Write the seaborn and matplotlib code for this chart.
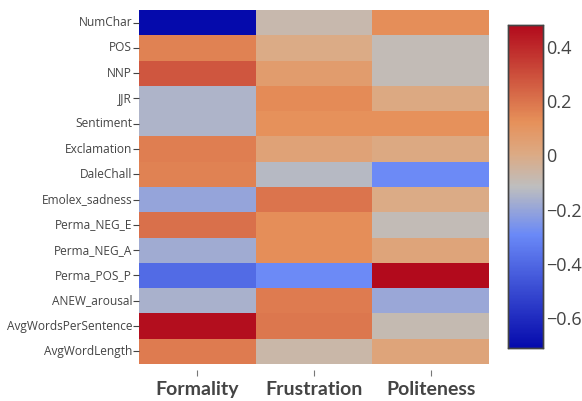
import numpy as np
import pandas as pd
import matplotlib
matplotlib.use("Agg")
import matplotlib.pyplot as plt
import seaborn as sns
from matplotlib.colors import LinearSegmentedColormap

# feature names (rows) and targets (columns)
features = ['NumChar', 'POS', 'NNP', 'JJR', 'Sentiment', 'Exclamation', 'DaleChall',
            'Emolex_sadness', 'Perma_NEG_E', 'Perma_NEG_A', 'Perma_POS_P', 'ANEW_arousal',
            'AvgWordsPerSentence', 'AvgWordLength']
targets = ['Formality', 'Frustration', 'Politeness']

# correlation values
formality = [-0.71, 0.16, 0.28, -0.15, -0.15, 0.17, 0.16,
             -0.20, 0.21, -0.18, -0.39, -0.16, 0.47, 0.18]
frustration = [-0.08, 0.00, 0.07, 0.14, 0.12, 0.04, -0.13,
               0.20, 0.13, 0.13, -0.29, 0.18, 0.19, -0.07]
politeness = [0.13, -0.10, -0.10, 0.01, 0.12, 0.01, -0.29,
              0.00, -0.10, 0.03, 0.48, -0.19, -0.09, 0.03]

df = pd.DataFrame({'Formality': formality, 'Frustration': frustration,
                   'Politeness': politeness}, index=features)

# plotly-style RdBu colorscale (blue low, red high)
stops = [(0.0, (5, 10, 172)), (0.35, (106, 137, 247)), (0.5, (190, 190, 190)),
         (0.6, (220, 170, 132)), (0.7, (230, 145, 90)), (1.0, (178, 10, 28))]
cmap = LinearSegmentedColormap.from_list(
    'plotly_rdbu', [(p, tuple(c / 255 for c in rgb)) for p, rgb in stops])

plt.rcParams['font.family'] = ['Open Sans', 'DejaVu Sans']
text_color = '#444444'

fig = plt.figure(figsize=(5.82, 4.01), dpi=100)
ax = fig.add_axes([0.2388, 0.0923, 0.6014, 0.8828])
cax = fig.add_axes([0.873, 0.1322, 0.060, 0.8055])

sns.heatmap(df, ax=ax, cbar_ax=cax, cmap=cmap,
            vmin=df.values.min(), vmax=df.values.max())

# offset x ticks below the cells (do this before styling labels: it resets ticks)
ax.spines['bottom'].set_position(('outward', 4))
ax.tick_params(axis='y', length=4, width=0.8, color=text_color, pad=1)
ax.tick_params(axis='x', length=4, width=0.8, color='#777777', pad=4)
ax.set_xticklabels(targets, fontsize=14, fontweight='bold', color=text_color,
                   family=['Lato', 'DejaVu Sans'])
ax.set_yticklabels(features, fontsize=8.6, color=text_color, rotation=0)

cax.tick_params(length=0, pad=2)
cax.set_yticks([-0.6, -0.4, -0.2, 0, 0.2, 0.4])
cax.set_yticklabels(['\u22120.6', '\u22120.4', '\u22120.2', '0', '0.2', '0.4'],
                    fontsize=13, color=text_color)
for sp in cax.spines.values():
    sp.set_visible(True)
    sp.set_color('#444444')
    sp.set_linewidth(1)

fig.savefig('out.png', dpi=100)
plt.close(fig)
